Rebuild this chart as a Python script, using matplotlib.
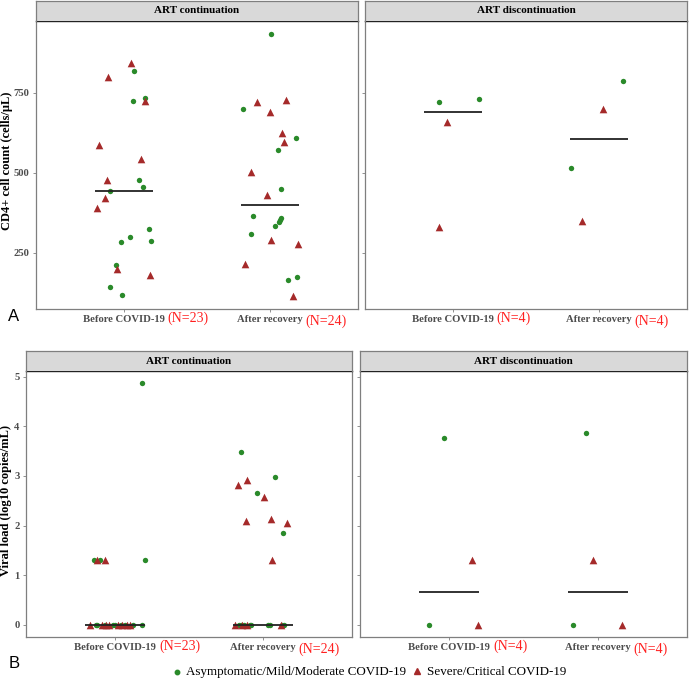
import numpy as np
import matplotlib
matplotlib.use("Agg")
import matplotlib.pyplot as plt

# ---------------- data ----------------
categories = ["Before COVID-19", "After recovery"]
facets = ["ART continuation", "ART discontinuation"]
n_labels = {("ART continuation", 0): "(N=23)", ("ART continuation", 1): "(N=24)",
            ("ART discontinuation", 0): "(N=4)", ("ART discontinuation", 1): "(N=4)"}

# CD4+ counts (cells/uL): continuation, before
cd4_cont_before_mild = [817, 725, 734, 477, 456, 442, 326, 300, 285, 287, 213, 143, 119]
cd4_cont_before_mild_jit = [0.072, 0.063, 0.145, 0.106, 0.131, -0.097, 0.172, 0.041, -0.018, 0.183, -0.052, -0.093, -0.014]
cd4_cont_before_sev = [842, 798, 725, 588, 542, 479, 423, 391, 201, 181]
cd4_cont_before_sev_jit = [0.047, -0.11, 0.142, -0.167, 0.118, -0.115, -0.127, -0.183, -0.045, 0.179]
# continuation, after
cd4_cont_after_mild = [934, 700, 608, 571, 451, 365, 359, 348, 352, 335, 310, 175, 166]
cd4_cont_after_mild_jit = [0.005, -0.183, 0.179, 0.056, 0.072, -0.115, 0.075, 0.063, 0.068, 0.036, -0.133, 0.185, 0.124]
cd4_cont_after_sev = [720, 728, 689, 625, 595, 504, 432, 292, 277, 217, 116]
cd4_cont_after_sev_jit = [-0.09, 0.111, 0.002, 0.079, 0.093, -0.129, -0.02, 0.005, 0.19, -0.172, 0.154]
# discontinuation
cd4_disc_before_mild = [720, 729]
cd4_disc_before_mild_jit = [-0.097, 0.176]
cd4_disc_before_sev = [660, 330]
cd4_disc_before_sev_jit = [-0.041, -0.093]
cd4_disc_after_mild = [787, 516]
cd4_disc_after_mild_jit = [0.165, -0.192]
cd4_disc_after_sev = [698, 349]
cd4_disc_after_sev_jit = [0.027, -0.118]

# Viral load (log10 copies/mL): continuation, before
vl_cont_before_mild = [4.87, 1.31, 1.30, 1.30, 0, 0, 0, 0, 0, 0, 0, 0, 0]
vl_cont_before_mild_jit = [0.18, 0.20, -0.14, -0.10, -0.13, -0.12, -0.07, -0.01, 0.0, 0.04, 0.07, 0.12, 0.18]
vl_cont_before_sev = [1.30, 1.30, 0, 0, 0, 0, 0, 0, 0, 0]
vl_cont_before_sev_jit = [-0.12, -0.07, -0.17, -0.09, -0.06, -0.04, 0.02, 0.05, 0.08, 0.10]
# continuation, after
vl_cont_after_mild = [3.49, 2.97, 2.66, 1.85, 0, 0, 0, 0, 0, 0, 0, 0, 0]
vl_cont_after_mild_jit = [-0.15, 0.082, -0.042, 0.134, -0.16, -0.15, -0.13, -0.09, -0.08, 0.03, 0.046, 0.127, 0.139]
vl_cont_after_sev = [2.81, 2.91, 2.57, 2.09, 2.14, 2.05, 1.31, 0, 0, 0, 0]
vl_cont_after_sev_jit = [-0.166, -0.11, 0.008, -0.114, 0.055, 0.159, 0.06, -0.19, -0.14, -0.11, 0.12]
# discontinuation
vl_disc_before_mild = [3.77, 0]
vl_disc_before_mild_jit = [-0.036, -0.133]
vl_disc_before_sev = [1.31, 0]
vl_disc_before_sev_jit = [0.155, 0.196]
vl_disc_after_mild = [3.87, 0]
vl_disc_after_mild_jit = [-0.077, -0.164]
vl_disc_after_sev = [1.31, 0]
vl_disc_after_sev_jit = [-0.034, 0.164]

cd4_ticks = [250, 500, 750]
vl_ticks = [0, 1, 2, 3, 4, 5]
legend_labels = ["Asymptomatic/Mild/Moderate COVID-19", "Severe/Critical COVID-19"]

cd4 = {
    ("ART continuation", 0): (cd4_cont_before_mild, cd4_cont_before_mild_jit, cd4_cont_before_sev, cd4_cont_before_sev_jit),
    ("ART continuation", 1): (cd4_cont_after_mild, cd4_cont_after_mild_jit, cd4_cont_after_sev, cd4_cont_after_sev_jit),
    ("ART discontinuation", 0): (cd4_disc_before_mild, cd4_disc_before_mild_jit, cd4_disc_before_sev, cd4_disc_before_sev_jit),
    ("ART discontinuation", 1): (cd4_disc_after_mild, cd4_disc_after_mild_jit, cd4_disc_after_sev, cd4_disc_after_sev_jit),
}
vl = {
    ("ART continuation", 0): (vl_cont_before_mild, vl_cont_before_mild_jit, vl_cont_before_sev, vl_cont_before_sev_jit),
    ("ART continuation", 1): (vl_cont_after_mild, vl_cont_after_mild_jit, vl_cont_after_sev, vl_cont_after_sev_jit),
    ("ART discontinuation", 0): (vl_disc_before_mild, vl_disc_before_mild_jit, vl_disc_before_sev, vl_disc_before_sev_jit),
    ("ART discontinuation", 1): (vl_disc_after_mild, vl_disc_after_mild_jit, vl_disc_after_sev, vl_disc_after_sev_jit),
}

# ---------------- style ----------------
GREEN = "#2A8A2A"
RED = "#A52A2A"
SERIF = ["Liberation Serif", "DejaVu Serif"]
TICKCOL = "#4D4D4D"
BORDER = "#7F7F7F"

W, H = 689, 681
fig = plt.figure(figsize=(W / 100, H / 100), dpi=100)
fig.patch.set_facecolor("white")


def rect(x0, y0, x1, y1):
    return [x0 / W, 1 - y1 / H, (x1 - x0) / W, (y1 - y0) / H]


def all_vals(d):
    out = []
    for v in d.values():
        out += list(v[0]) + list(v[2])
    return out


def draw_row(data, panels, strip_top, strip_bot, panel_bot, ticks, ylabel, ylabel_x, letter, letter_y):
    vals = all_vals(data)
    lo, hi = min(vals), max(vals)
    pad = 0.05 * (hi - lo)
    ylim = (lo - pad, hi + pad)
    for fi, (facet, (x0, x1)) in enumerate(zip(facets, panels)):
        ax = fig.add_axes(rect(x0, strip_bot, x1, panel_bot))
        ax.set_xlim(0.4, 2.6)
        ax.set_ylim(*ylim)
        for ci in range(2):
            mv, mj, sv, sj = data[(facet, ci)]
            xpos = ci + 1
            ax.scatter(np.array(mj) + xpos, mv, s=15, marker="o", color=GREEN, linewidths=0, zorder=3)
            ax.scatter(np.array(sj) + xpos, sv, s=30, marker="^", color=RED, linewidths=0, zorder=3)
            med = np.median(list(mv) + list(sv))
            ax.plot([xpos - 0.2, xpos + 0.2], [med, med], color="#222222", lw=1.3, zorder=4,
                    solid_capstyle="butt")
            off = 0.30 if ci == 0 else 0.24
            dy = -6.5 if ci == 0 else -9.0
            ax.annotate(n_labels[(facet, ci)], xy=(xpos + off, 0), xycoords=("data", "axes fraction"),
                        xytext=(0, dy), textcoords="offset points", ha="left", va="center",
                        color="#FF2020", fontsize=10, family=SERIF, annotation_clip=False)
        ax.set_xticks([1, 2])
        ax.set_xticklabels(categories, family=SERIF, fontweight="bold", fontsize=7.7, color=TICKCOL)
        ax.set_yticks(ticks)
        if fi == 0:
            ax.set_yticklabels([str(t) for t in ticks], family=SERIF, fontweight="bold", fontsize=7.7, color=TICKCOL)
        else:
            ax.set_yticklabels([])
        ax.tick_params(axis="both", length=2.5, width=0.6, color=BORDER, pad=2)
        for side in ["left", "right", "bottom"]:
            ax.spines[side].set_color(BORDER)
            ax.spines[side].set_linewidth(0.9)
        ax.spines["top"].set_color("#222222")
        ax.spines["top"].set_linewidth(1.0)
        if fi == 0:
            fig.text(ylabel_x / W, 1 - ((strip_bot + panel_bot) / 2 - 4) / H, ylabel, rotation=90,
                     ha="center", va="center", family=SERIF, fontweight="bold", fontsize=9, color="black")
        # strip
        sax = fig.add_axes(rect(x0, strip_top, x1, strip_bot))
        sax.set_facecolor("#D9D9D9")
        sax.set_xticks([])
        sax.set_yticks([])
        for side in ["left", "right", "top"]:
            sax.spines[side].set_color(BORDER)
            sax.spines[side].set_linewidth(0.9)
        sax.spines["bottom"].set_visible(False)
        sax.text(0.5, 0.5, facet, ha="center", va="center", family=SERIF, fontweight="bold",
                 fontsize=8, color="black", transform=sax.transAxes)
    fig.text(14 / W, 1 - letter_y / H, letter, ha="center", va="center",
             family=["Liberation Sans", "DejaVu Sans"], fontsize=12, color="black")


draw_row(cd4, [(36, 358), (365, 687)], 1, 20.7, 309, cd4_ticks,
         "CD4+ cell count (cells/\u03bcL)", 7, "A", 316)
draw_row(vl, [(26, 352), (360, 687)], 351, 371, 637, vl_ticks,
         "Viral load (log10 copies/mL)", 6.5, "B", 664)

# legend
ly = 1 - 672 / H
fig.lines.append(plt.Line2D([177 / W], [ly], marker="o", color=GREEN, ms=3.2, lw=0,
                            transform=fig.transFigure))
fig.text(186 / W, ly, legend_labels[0], ha="left", va="center", family=SERIF, fontsize=9.4, color="black")
fig.lines.append(plt.Line2D([417 / W], [ly + 1 / H], marker="^", color=RED, ms=4.5, lw=0,
                            transform=fig.transFigure))
fig.text(427 / W, ly, legend_labels[1], ha="left", va="center", family=SERIF, fontsize=9.4, color="black")

fig.savefig("out.png", dpi=100, facecolor="white")
